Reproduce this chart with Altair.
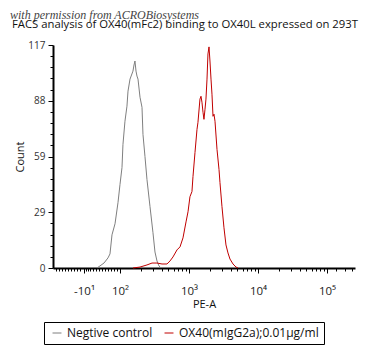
import altair as alt
import pandas as pd

# Gray: negative control histogram (x in logicle display units: 2 = 10^2, 3 = 10^3 ...)
neg_x = [1.667, 1.710, 1.768, 1.826, 1.855, 1.884, 1.928, 1.971, 2.000, 2.029, 2.043, 2.072,
         2.101, 2.116, 2.145, 2.188, 2.203, 2.217, 2.232, 2.246, 2.261, 2.290, 2.319, 2.333,
         2.362, 2.391, 2.435, 2.478, 2.507, 2.536, 2.565, 2.594]
neg_y = [0, 1.1, 2.6, 5.3, 7.4, 17.4, 23.2, 34.3, 43.8, 52.7, 64.8, 77.0,
         84.9, 92.8, 99.1, 103.3, 106.5, 108.6, 103.3, 100.7, 99.1, 89.6, 84.3, 70.1,
         58.5, 46.4, 32.2, 18.5, 8.4, 3.7, 1.1, 0]

# Red: OX40(mIgG2a) 0.01 ug/ml
pos_x = [2.188, 2.290, 2.391, 2.464, 2.536, 2.609, 2.681, 2.725, 2.768, 2.826, 2.870, 2.913,
         2.957, 2.986, 3.014, 3.043, 3.058, 3.087, 3.116, 3.130, 3.159, 3.174, 3.188, 3.203,
         3.217, 3.232, 3.246, 3.261, 3.275, 3.290, 3.304, 3.319, 3.333, 3.348, 3.362, 3.377,
         3.406, 3.435, 3.449, 3.478, 3.507, 3.536, 3.565, 3.594, 3.638, 3.681, 3.710]
pos_y = [0, 0.5, 1.6, 2.6, 2.6, 2.1, 2.1, 3.7, 5.8, 9.5, 11.1, 15.8,
         24.2, 29.5, 37.4, 40.1, 48.0, 60.6, 72.7, 76.4, 88.6, 90.1, 87.0, 81.7,
         78.0, 83.3, 88.6, 99.1, 112.3, 116.0, 108.6, 99.1, 91.2, 79.6, 80.7, 77.0,
         62.2, 51.7, 44.8, 32.2, 21.1, 12.1, 7.9, 4.7, 2.1, 0.5, 0]

series_names = ["Negtive control", "OX40(mIgG2a);0.01µg/ml"]
series_colors = ["#7f7f7f", "#c00000"]

x_major = [1.478, 2, 3, 4, 5]
x_major_labels = ["-10¹", "10²", "10³", "10⁴", "10⁵"]
x_minor = [1.072, 1.116, 1.159, 1.203, 1.246, 1.290, 1.333, 1.377, 1.420, 1.507, 1.536,
           1.565, 1.609, 1.652, 1.696, 1.739, 1.783, 1.826, 1.870, 1.913, 1.957,
           2.301, 2.477, 2.602, 2.699, 2.778, 2.845, 2.903, 2.954,
           3.301, 3.477, 3.602, 3.699, 3.778, 3.845, 3.903, 3.954,
           4.301, 4.477, 4.602, 4.699, 4.778, 4.845, 4.903, 4.954,
           5.13, 5.26, 5.36]
y_major = [0, 29.25, 58.5, 87.75, 117]
y_minor = [5.85, 11.7, 17.55, 23.4, 35.1, 40.95, 46.8, 52.65, 64.35, 70.2, 76.05, 81.9,
           93.6, 99.45, 105.3, 111.15]

title_text = "FACS analysis of OX40(mFc2) binding to OX40L expressed on 293T"
watermark_text = "with permission from ACROBiosystems"

rows = []
for xv, yv in zip(neg_x, neg_y):
    rows.append({"series": series_names[0], "x": xv, "y": yv, "o": len(rows)})
for xv, yv in zip(pos_x, pos_y):
    rows.append({"series": series_names[1], "x": xv, "y": yv, "o": len(rows)})
df = pd.DataFrame(rows)

FONT = "Open Sans"

label_expr = " : ".join(
    f"datum.value == {v} ? '{l}'" for v, l in zip(x_major, x_major_labels)
) + " : ''"
x_test = "indexof([" + ",".join(str(v) for v in x_major) + "], datum.value) >= 0"
y_test = "indexof([" + ",".join(str(v) for v in y_major) + "], datum.value) >= 0"

x_axis = alt.Axis(
    values=x_major + x_minor, labelExpr=label_expr, grid=False,
    tickSize={"condition": {"test": x_test, "value": 5}, "value": 3},
    tickColor="black", domainColor="black", domainWidth=2, tickWidth=1,
    labelOverlap=False, labelFlush=False, labelPadding=12, labelFontSize=11.5,
    labelColor="#222", labelFont=FONT, title="PE-A", titleFont=FONT,
    titleFontSize=11, titleFontWeight="normal", titleColor="#111", titlePadding=2,
)
y_axis = alt.Axis(
    values=y_major + y_minor, labelExpr=y_test + " ? format(round(datum.value), 'd') : ''",
    grid=False,
    tickSize={"condition": {"test": y_test, "value": 5}, "value": 3},
    tickColor="black", domainColor="black", domainWidth=2, tickWidth=1,
    labelOverlap=False, labelFlush=False, labelPadding=3, labelFontSize=10,
    labelColor="#333", labelFont=FONT, title="Count", titleFont=FONT,
    titleFontSize=11, titleFontWeight="normal", titleColor="#111", titlePadding=2,
)

lines = alt.Chart(df).mark_line(strokeWidth=1, interpolate="linear").encode(
    x=alt.X("x:Q", scale=alt.Scale(domain=[1.029, 5.406], nice=False, zero=False), axis=x_axis),
    y=alt.Y("y:Q", scale=alt.Scale(domain=[0, 117], nice=False), axis=y_axis),
    color=alt.Color("series:N", scale=alt.Scale(domain=series_names, range=series_colors),
                    legend=alt.Legend(
                        title=None, orient="none", legendX=-9, legendY=277,
                        direction="horizontal", strokeColor="black", fillColor="white",
                        padding=5, symbolType="stroke", symbolSize=80, symbolStrokeWidth=1,
                        labelFont=FONT, labelFontSize=12, labelColor="#111",
                        columnPadding=8, symbolOffset=2)),
    order="o:Q",
)

ann = pd.DataFrame({"k": [0]})
title_mark = alt.Chart(ann).mark_text(
    text=title_text, align="left", baseline="alphabetic", font=FONT, fontSize=11.3, color="#111"
).encode(x=alt.value(-41), y=alt.value(-17))
wm_mark = alt.Chart(ann).mark_text(
    text=watermark_text, align="left", baseline="alphabetic", font="Liberation Serif",
    fontStyle="italic", fontSize=12, color="#444"
).encode(x=alt.value(-43), y=alt.value(-26))

chart = alt.layer(lines, wm_mark, title_mark).properties(
    width=302, height=223,
    padding={"left": 45, "top": 37, "right": 13, "bottom": 79},
    autosize=alt.AutoSizeParams(type="none"),
).configure_view(stroke=None)

chart.save("out.html", embed_options={"renderer": "svg", "actions": False})
